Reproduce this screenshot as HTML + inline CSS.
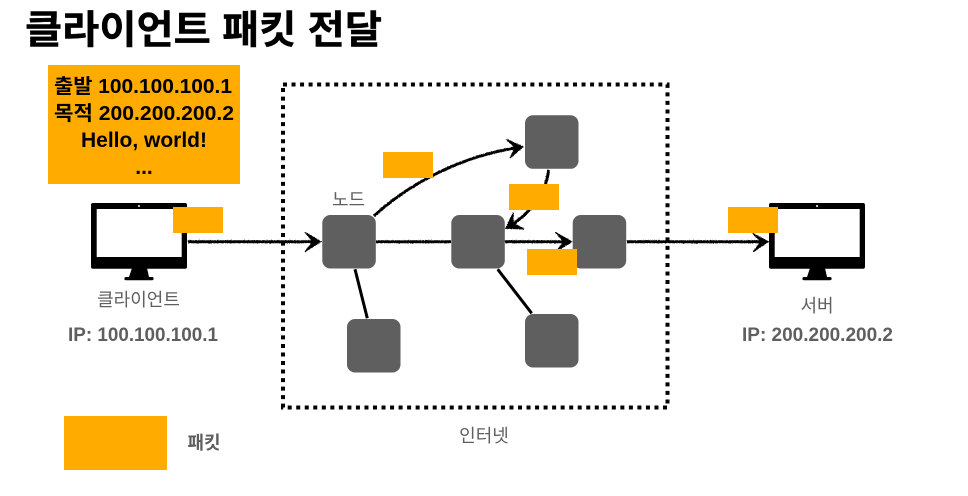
<!DOCTYPE html>
<html><head><meta charset="utf-8"><style>
html,body{margin:0;padding:0;background:#fff}
svg{display:block}
text{font-family:"Liberation Sans","Noto Sans CJK KR",sans-serif}
</style></head><body>
<svg width="968" height="496" viewBox="0 0 968 496" xmlns="http://www.w3.org/2000/svg">
<defs>
<filter id="rough" x="-5%" y="-20%" width="110%" height="140%" filterUnits="objectBoundingBox">
<feTurbulence type="fractalNoise" baseFrequency="0.9" numOctaves="2" seed="3" result="n"/>
<feDisplacementMap in="SourceGraphic" in2="n" scale="1.6" xChannelSelector="R" yChannelSelector="G"/>
</filter>
</defs>
<rect width="968" height="496" fill="#fff"/>
<text x="25" y="43.500" font-size="39" font-weight="700" fill="#000" stroke="#000" stroke-width=".4" textLength="357" lengthAdjust="spacingAndGlyphs">클라이언트 패킷 전달</text>
<rect x="48" y="65" width="192" height="119" fill="#ffab00"/>
<g font-size="20" font-weight="700" fill="#000" text-anchor="middle">
<text x="143" y="93" textLength="178" lengthAdjust="spacingAndGlyphs">출발 100.100.100.1</text>
<text x="144" y="120" textLength="180" lengthAdjust="spacingAndGlyphs">목적 200.200.200.2</text>
<text x="144" y="147" font-size="21" textLength="126" lengthAdjust="spacingAndGlyphs">Hello, world!</text>
<text x="144" y="174" font-size="21">...</text>
</g>
<rect x="283" y="84.500" width="384.500" height="323" fill="none" stroke="#000" stroke-width="4" stroke-dasharray="4 4.530"/>
<path fill="#000" d="M93 203h92a2 2 0 0 1 2 2v61.700a2 2 0 0 1-2 2h-92a2 2 0 0 1-2-2v-61.700a2 2 0 0 1 2-2z"/>
<rect x="96.700" y="209" width="85" height="48" fill="#fff"/>
<path fill="#000" d="M132 268h15l2 9h3a1.500 1.500 0 0 1 0 3.200h-26a1.500 1.500 0 0 1 0-3.200h3z"/>
<circle cx="139" cy="206" r="1" fill="#fff"/>
<g transform="translate(678 0)">
<path fill="#000" d="M93 203h92a2 2 0 0 1 2 2v61.700a2 2 0 0 1-2 2h-92a2 2 0 0 1-2-2v-61.700a2 2 0 0 1 2-2z"/>
<rect x="96.700" y="209" width="85" height="48" fill="#fff"/>
<path fill="#000" d="M132 268h15l2 9h3a1.500 1.500 0 0 1 0 3.200h-26a1.500 1.500 0 0 1 0-3.200h3z"/>
<circle cx="139" cy="206" r="1" fill="#fff"/>
</g>
<g fill="none" stroke="#000" stroke-width="3" filter="url(#rough)">
<path d="M188 241.700H316"/>
<path d="M376 241.700H451"/>
<path d="M505 241.700H567"/>
<path d="M627 241.700H764"/>
<path d="M374 216C400 192 450 158 518 147.500"/>
<path d="M548.500 170C547 190 532 212 510 226"/>
</g>
<g fill="none" stroke="#000" stroke-width="3">
<path d="M355 269.300L367.300 318.300"/>
<path d="M497.700 269.300L531.700 313.300"/>
</g>
<g fill="#000" stroke="#000" stroke-width="1" stroke-linejoin="miter" filter="url(#rough)">
<path d="M305 232.300L320.700 241.700L305 251.700L313 241.700z"/>
<path d="M555.300 232.300L571.700 241.700L556 251.700L564 241.700z"/>
<path d="M752.700 233.300L768.300 241.700L753.300 251.700L761 241.700z"/>
<path d="M506.500 139.300L523 146.700L510 158L515 147.800z"/>
<path d="M513.300 212.700L505.700 228.300L524 229L513 223.500z"/>
</g>
<g fill="#5f5f5f">
<rect x="322.300" y="215" width="53.500" height="53.500" rx="8"/>
<rect x="451.300" y="215" width="53.500" height="53.500" rx="8"/>
<rect x="572.700" y="215" width="53.500" height="53.500" rx="8"/>
<rect x="525" y="115.300" width="53.500" height="53.500" rx="8"/>
<rect x="347" y="319" width="53.500" height="53.500" rx="8"/>
<rect x="525" y="314" width="53.500" height="53.500" rx="8"/>
</g>
<g fill="#ffab00">
<rect x="173" y="207" width="50" height="26"/>
<rect x="383" y="152" width="50" height="26"/>
<rect x="509" y="184" width="50" height="26"/>
<rect x="527" y="249" width="50" height="26"/>
<rect x="728" y="207" width="50" height="26"/>
<rect x="64" y="416" width="103" height="54"/>
</g>
<g fill="#5f5f5f" text-anchor="middle">
<text x="348.500" y="206" font-size="18">노드</text>
<text x="138.500" y="306" font-size="18">클라이언트</text>
<text x="817" y="312" font-size="18">서버</text>
<text x="484" y="442" font-size="18">인터넷</text>
<text x="143" y="341" font-size="19" font-weight="700" textLength="150" lengthAdjust="spacingAndGlyphs">IP: 100.100.100.1</text>
<text x="817.500" y="341" font-size="19" font-weight="700" textLength="151" lengthAdjust="spacingAndGlyphs">IP: 200.200.200.2</text>
<text x="204" y="449" font-size="18" font-weight="700">패킷</text>
</g>
</svg>
</body></html>
